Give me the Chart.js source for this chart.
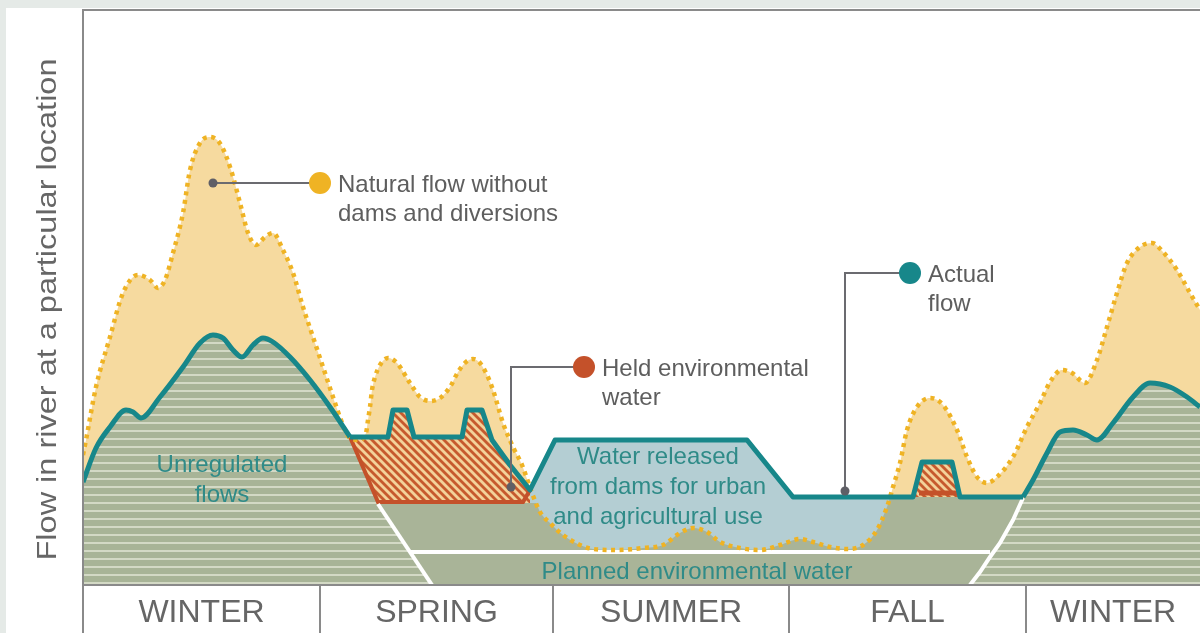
<!DOCTYPE html>
<html>
<head>
<meta charset="utf-8">
<script src="https://cdn.jsdelivr.net/npm/chart.js@4.4.1/dist/chart.umd.min.js"></script>
<style>
  html, body { margin: 0; padding: 0; background: #e5eae7; }
  canvas { display: block; }
</style>
</head>
<body>
<canvas id="flowChart" width="1200" height="633"></canvas>
<script>
// x = time through the year (0 = start of winter), y = flow at the location
const SEASONS = ['WINTER', 'SPRING', 'SUMMER', 'FALL', 'WINTER'];
const SEASON_BOUNDS = [0, 237, 470, 706, 943, 1117];

// natural flow without dams and diversions (dotted yellow)
const NATURAL_FLOW = [
  [0,130],[3,145],[13,198],[27,248],[40,292],[55,310],[67,305],[75,297],[82,305],[90,332],
  [100,372],[107,415],[117,442],[127,448],[138,440],[148,415],[157,382],[165,352],[173,340],
  [182,348],[190,352],[200,335],[210,312],[220,278],[230,248],[240,218],[250,188],[258,165],
  [265,149],[275,145],[283,152],[285,165],[287,178],[289,195],[292,208],[297,220],[305,227],
  [314,222],[327,202],[337,188],[347,184],[357,187],[367,198],[375,213],[383,223],[390,226],
  [397,222],[404,210],[410,195],[420,162],[430,138],[439,120],[449,92],[457,73],[467,62],
  [480,50],[497,40],[510,36],[534,35],[560,37],[580,40],[597,52],[610,57],[624,53],[637,43],
  [657,37],[677,35],[697,40],[717,46],[730,43],[747,38],[764,36],[780,40],[794,55],[804,78],
  [810,98],[817,122],[824,155],[834,178],[847,187],[860,180],[874,155],[884,128],[894,108],
  [904,102],[914,108],[930,128],[944,158],[957,182],[967,203],[979,215],[989,212],[1002,202],
  [1014,225],[1024,258],[1034,292],[1044,322],[1057,338],[1069,342],[1080,333],[1094,315],
  [1107,292],[1117,275]
];

// actual flow (teal line), in three pieces
const ACTUAL_LEFT = [
  [0,103],[13,137],[27,158],[43,175],[50,173],[58,167],[77,188],[100,218],[117,242],[130,250],
  [140,247],[150,235],[159,228],[170,240],[180,247],[190,243],[207,228],[227,205],[247,178],[267,148]
];
const ACTUAL_MID = [
  [267,148],[305,148],[310,175],[324,175],[331,148],[379,148],[384,175],[399,175],[409,145],
  [427,120],[447,95],[472,145],[664,145],[710,88],[830,88],[839,123],[869,123],[877,88],[940,88]
];
const ACTUAL_RIGHT = [
  [940,88],[950,105],[964,132],[977,153],[990,155],[1004,150],[1014,145],[1030,162],[1050,188],
  [1067,202],[1087,198],[1104,188],[1117,178]
];

// water released from dams (blue area top)
const RELEASED_FLOW = [[445,90],[447,95],[472,145],[664,145],[710,88],[812,88]];
// held environmental water
const HELD_SPRING_TOP = ACTUAL_MID.slice(0, 11);
const HELD_SPRING_EDGE = [[267,148],[295,83],[440,83],[447,95]];
const HELD_FALL_TOP = [[830,88],[839,123],[869,123],[877,88]];
const HELD_FALL_BASE = [[836,92],[875,92]];
// planned environmental water (solid green) top
const PLANNED_TOP = [
  [295,82],[453,82],[457,73],[467,62],[480,50],[497,40],[510,36],[534,35],[560,37],[580,40],
  [597,52],[610,57],[624,53],[637,43],[657,37],[677,35],[697,40],[717,46],[730,43],[747,38],
  [764,36],[780,40],[794,55],[804,78],[808,88],[940,88]
];
// unregulated flows (striped)
const UNREG_LEFT = ACTUAL_LEFT.concat([[295,83],[349,0]]);
const RIGHT_EDGE = [[887,0],[897,13],[907,28],[917,42],[930,65],[940,87]];
const UNREG_RIGHT = RIGHT_EDGE.concat(ACTUAL_RIGHT.slice(1));
const LEFT_EDGE = [[295,81],[349,0]];
const PLANNED_LINE = [[327,33],[907,33]];

const CALLOUTS = [
  { anchor: [130, 402], elbow: null, marker: [237, 402], color: '#efb324', lines: ['Natural flow without', 'dams and diversions'] },
  { anchor: [428, 98], elbow: [428, 218], marker: [501, 218], color: '#c4512a', lines: ['Held environmental', 'water'] },
  { anchor: [762, 94], elbow: [762, 312], marker: [827, 312], color: '#17878a', lines: ['Actual', 'flow'] }
];
const AREA_LABELS = [
  { at: [139, 120], lines: ['Unregulated', 'flows'] },
  { at: [575, 128], lines: ['Water released', 'from dams for urban', 'and agricultural use'] },
  { at: [614, 13], lines: ['Planned environmental water'] }
];
const Y_TITLE = 'Flow in river at a particular location';

const FONT = '"Liberation Sans", Arial, Helvetica, sans-serif';
const TEAL = '#17878a';
const TEAL_TEXT = '#2f8b88';
const GREY = '#8a8a8a';

const pts = a => a.map(([x, y]) => ({ x, y }));

function stripePattern() {
  const c = document.createElement('canvas');
  c.width = 8; c.height = 8;
  const g = c.getContext('2d');
  g.fillStyle = '#a8b497';
  g.fillRect(0, 0, 8, 8);
  g.fillStyle = '#d3d9c5';
  g.fillRect(0, 6, 8, 2);
  return g.createPattern(c, 'repeat');
}

function hatchPattern() {
  const c = document.createElement('canvas');
  c.width = 8; c.height = 8;
  const g = c.getContext('2d');
  g.fillStyle = '#c65a2e';
  g.fillRect(0, 0, 8, 8);
  g.strokeStyle = '#f3d29a';
  g.lineWidth = 2.8;
  for (const o of [-8, 0, 8]) {
    g.beginPath();
    g.moveTo(o - 1, -1);
    g.lineTo(o + 9, 9);
    g.stroke();
  }
  return g.createPattern(c, 'repeat');
}

const stripes = stripePattern();
const hatch = hatchPattern();

function series(data, opts) {
  return Object.assign({
    data: pts(data), pointRadius: 0, pointHoverRadius: 0, borderWidth: 0,
    fill: false, tension: 0, borderColor: 'transparent'
  }, opts);
}

const backdrop = {
  id: 'backdrop',
  beforeDraw(chart) {
    const ctx = chart.ctx;
    ctx.save();
    ctx.fillStyle = '#e5eae7';
    ctx.fillRect(0, 0, chart.width, chart.height);
    ctx.fillStyle = '#ffffff';
    ctx.fillRect(6, 8, chart.width - 6, chart.height - 8);
    ctx.restore();
  }
};

const decorations = {
  id: 'decorations',
  afterDraw(chart) {
    const ctx = chart.ctx;
    const xs = chart.scales.x, ys = chart.scales.y;
    const area = chart.chartArea;
    const px = v => xs.getPixelForValue(v);
    const py = v => ys.getPixelForValue(v);

    ctx.save();
    // frame and season band
    ctx.strokeStyle = GREY;
    ctx.lineWidth = 2;
    ctx.beginPath();
    ctx.moveTo(area.left, chart.height);
    ctx.lineTo(area.left, area.top);
    ctx.lineTo(area.right, area.top);
    ctx.moveTo(area.left, area.bottom);
    ctx.lineTo(area.right, area.bottom);
    SEASON_BOUNDS.slice(1, -1).forEach(b => {
      ctx.moveTo(px(b), area.bottom);
      ctx.lineTo(px(b), chart.height);
    });
    ctx.stroke();

    ctx.fillStyle = '#666666';
    ctx.font = '32px ' + FONT;
    ctx.textAlign = 'center';
    ctx.textBaseline = 'middle';
    SEASONS.forEach((s, i) => {
      ctx.fillText(s, (px(SEASON_BOUNDS[i]) + px(SEASON_BOUNDS[i + 1])) / 2, area.bottom + 28);
    });

    // y axis title
    ctx.save();
    ctx.translate(48, (area.top + area.bottom) / 2 + 12);
    ctx.rotate(-Math.PI / 2);
    ctx.font = '28px ' + FONT;
    const w = ctx.measureText(Y_TITLE).width;
    ctx.scale(502 / w, 1);
    ctx.fillStyle = '#666666';
    ctx.fillText(Y_TITLE, 0, 0);
    ctx.restore();

    // area labels
    ctx.fillStyle = TEAL_TEXT;
    ctx.font = '24px ' + FONT;
    AREA_LABELS.forEach(l => {
      l.lines.forEach((t, i) => ctx.fillText(t, px(l.at[0]), py(l.at[1]) + i * 30));
    });

    // callouts
    CALLOUTS.forEach(c => {
      ctx.strokeStyle = '#6b6b70';
      ctx.lineWidth = 2;
      ctx.beginPath();
      ctx.moveTo(px(c.anchor[0]), py(c.anchor[1]));
      if (c.elbow) ctx.lineTo(px(c.elbow[0]), py(c.elbow[1]));
      ctx.lineTo(px(c.marker[0]), py(c.marker[1]));
      ctx.stroke();
      ctx.fillStyle = '#5f5f66';
      ctx.beginPath();
      ctx.arc(px(c.anchor[0]), py(c.anchor[1]), 4.5, 0, Math.PI * 2);
      ctx.fill();
      ctx.fillStyle = c.color;
      ctx.beginPath();
      ctx.arc(px(c.marker[0]), py(c.marker[1]), 11, 0, Math.PI * 2);
      ctx.fill();
      ctx.fillStyle = '#5e5e5e';
      ctx.font = '24px ' + FONT;
      ctx.textAlign = 'left';
      c.lines.forEach((t, i) => ctx.fillText(t, px(c.marker[0]) + 18, py(c.marker[1]) + 2 + i * 29));
      ctx.textAlign = 'center';
    });
    ctx.restore();
  }
};

new Chart(document.getElementById('flowChart').getContext('2d'), {
  type: 'line',
  data: {
    datasets: [
      series(NATURAL_FLOW, { order: 100, fill: 'origin', backgroundColor: '#f6da9f', cubicInterpolationMode: 'monotone' }),
      series(RELEASED_FLOW, { order: 90, fill: 'origin', backgroundColor: '#b4ced3' }),
      series(HELD_SPRING_TOP, { order: 85, fill: 'origin', backgroundColor: hatch }),
      series(HELD_FALL_TOP, { order: 84, fill: 'origin', backgroundColor: hatch }),
      series(PLANNED_TOP, { order: 80, fill: 'origin', backgroundColor: '#a9b498', cubicInterpolationMode: 'monotone' }),
      series(UNREG_LEFT, { order: 70, fill: 'origin', backgroundColor: stripes, cubicInterpolationMode: 'monotone' }),
      series(UNREG_RIGHT, { order: 69, fill: 'origin', backgroundColor: stripes, cubicInterpolationMode: 'monotone' }),
      series(HELD_SPRING_EDGE, { order: 60, borderWidth: 4, borderColor: '#c4512a' }),
      series(HELD_FALL_BASE, { order: 59, borderWidth: 5, borderColor: '#c4512a' }),
      series(LEFT_EDGE, { order: 50, borderWidth: 4, borderColor: '#ffffff' }),
      series(PLANNED_LINE, { order: 49, borderWidth: 4, borderColor: '#ffffff' }),
      series(RIGHT_EDGE, { order: 48, borderWidth: 4, borderColor: '#ffffff' }),
      series(NATURAL_FLOW, { order: 30, borderWidth: 4.5, borderColor: '#efb324', borderDash: [4, 4.5], borderCapStyle: 'butt', cubicInterpolationMode: 'monotone' }),
      series(ACTUAL_LEFT, { order: 20, borderWidth: 5, borderColor: TEAL, cubicInterpolationMode: 'monotone', borderJoinStyle: 'round' }),
      series(ACTUAL_MID, { order: 19, borderWidth: 5, borderColor: TEAL, borderJoinStyle: 'round' }),
      series(ACTUAL_RIGHT, { order: 18, borderWidth: 5, borderColor: TEAL, cubicInterpolationMode: 'monotone', borderJoinStyle: 'round' })
    ]
  },
  options: {
    responsive: false,
    animation: false,
    devicePixelRatio: 1,
    layout: { padding: { left: 83, top: 10, right: 0, bottom: 48 } },
    scales: {
      x: { type: 'linear', min: 0, max: 1117, display: false },
      y: { type: 'linear', min: 0, max: 575, display: false }
    },
    plugins: { legend: { display: false }, tooltip: { enabled: false } }
  },
  plugins: [backdrop, decorations]
});
</script>
</body>
</html>
